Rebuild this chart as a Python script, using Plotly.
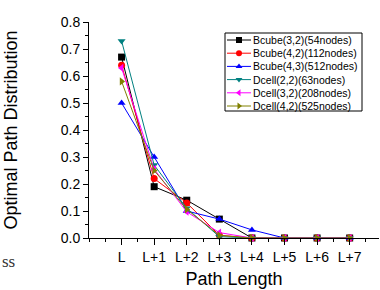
import plotly.graph_objects as go

path_labels = ["L", "L+1", "L+2", "L+3", "L+4", "L+5", "L+6", "L+7"]
series_names = ["Bcube(3,2)(54nodes)", "Bcube(4,2)(112nodes)", "Bcube(4,3)(512nodes)",
                "Dcell(2,2)(63nodes)", "Dcell(3,2)(208nodes)", "Dcell(4,2)(525nodes)"]
bcube_3_2 = [0.67, 0.19, 0.14, 0.07, 0.0, 0.0, 0.0, 0.0]
bcube_4_2 = [0.64, 0.22, 0.13, 0.01, 0.0, 0.0, 0.0, 0.0]
bcube_4_3 = [0.50, 0.30, 0.10, 0.07, 0.03, 0.0, 0.0, 0.0]
dcell_2_2 = [0.73, 0.27, 0.11, 0.005, 0.0, 0.0, 0.0, 0.0]
dcell_3_2 = [0.63, 0.255, 0.097, 0.02, 0.0, 0.0, 0.0, 0.0]
dcell_4_2 = [0.58, 0.25, 0.106, 0.01, 0.0, 0.0, 0.0, 0.0]

series_values = [bcube_3_2, bcube_4_2, bcube_4_3, dcell_2_2, dcell_3_2, dcell_4_2]
colors = ["#000000", "#ff0000", "#0000ff", "#008080", "#ff00ff", "#808000"]
symbols = ["square", "circle", "triangle-up", "triangle-down", "triangle-left", "triangle-right"]

x_idx = list(range(len(path_labels)))

W, H = 380, 290
ML, MR, MT, MB = 89, 1, 22, 52
pw = W - ML - MR
ph = H - MT - MB

# legend box in pixel units (layout only)
LX0, LX1, LY0, LY1 = 225, 362, 33, 111
ROW0, ROWSTEP = 40, 13.2
SYM_X0, SYM_X1, TXT_X = 227, 251, 252

font = "Liberation Sans, Arial, sans-serif"

fig = go.Figure()
for name, vals, c, s in zip(series_names, series_values, colors, symbols):
    fig.add_trace(go.Scatter(
        x=x_idx, y=vals, name=name, mode="lines+markers",
        line=dict(color=c, width=1),
        marker=dict(symbol=s, size=7, color=c),
        cliponaxis=False, showlegend=False,
    ))

# manual legend on an overlay axis spanning the legend box
for i, (name, c, s) in enumerate(zip(series_names, colors, symbols)):
    ry = ROW0 + ROWSTEP * i
    fig.add_trace(go.Scatter(
        x=[SYM_X0, SYM_X1], y=[ry, ry], mode="lines", line=dict(color=c, width=1),
        xaxis="x2", yaxis="y2", showlegend=False, hoverinfo="skip",
    ))
    fig.add_trace(go.Scatter(
        x=[(SYM_X0 + SYM_X1) / 2], y=[ry], mode="markers",
        marker=dict(symbol=s, size=6, color=c),
        xaxis="x2", yaxis="y2", showlegend=False, hoverinfo="skip", cliponaxis=False,
    ))
    fig.add_annotation(text=name, xref="x2", yref="y2", x=TXT_X, y=ry,
                       xanchor="left", yanchor="middle", showarrow=False, borderpad=0,
                       font=dict(family=font, size=10.5, color="black"))

fig.add_shape(type="rect", xref="x2", yref="y2", x0=LX0, x1=LX1, y0=LY0, y1=LY1,
              line=dict(color="black", width=1), fillcolor="white", layer="below")

fig.update_layout(
    width=W, height=H,
    margin=dict(l=ML, r=MR, t=MT, b=MB),
    paper_bgcolor="white", plot_bgcolor="white",
    font=dict(family=font, size=14, color="black"),
    showlegend=False,
    xaxis=dict(
        range=[-1, 7.9], tickvals=x_idx, ticktext=path_labels,
        showline=True, linecolor="black", linewidth=1,
        ticks="outside", ticklen=6, tickcolor="black",
        minor=dict(dtick=0.5, tick0=0, ticks="outside", ticklen=3, tickcolor="black"),
        showgrid=False, zeroline=False,
        title=dict(text="Path Length", font=dict(size=18), standoff=8),
        tickfont=dict(size=14),
    ),
    yaxis=dict(
        range=[0, 0.8], dtick=0.1, tickformat=".1f",
        showline=True, linecolor="black", linewidth=1,
        ticks="outside", ticklen=5, tickcolor="black",
        minor=dict(dtick=0.05, ticks="outside", ticklen=3, tickcolor="black"),
        showgrid=False, zeroline=False,
        title=dict(text="Optimal Path Distribution", font=dict(size=18), standoff=38),
        tickfont=dict(size=14),
    ),
    xaxis2=dict(
        domain=[(LX0 - 1 - ML) / pw, (LX1 + 1 - ML) / pw], range=[LX0 - 1, LX1 + 1],
        anchor="y2", visible=False, fixedrange=True,
    ),
    yaxis2=dict(
        domain=[(H - MB - LY1 - 1) / ph, (H - MB - LY0 + 1) / ph], range=[LY1 + 1, LY0 - 1],
        anchor="x2", visible=False, fixedrange=True,
    ),
)

fig.add_annotation(text="ss", xref="paper", yref="paper", x=-ML / pw, y=-(261 - (H - MB)) / ph,
                   xanchor="left", yanchor="middle", showarrow=False,
                   font=dict(family="Liberation Serif, serif", size=17, color="#333333"))

fig.write_html("out.html")
